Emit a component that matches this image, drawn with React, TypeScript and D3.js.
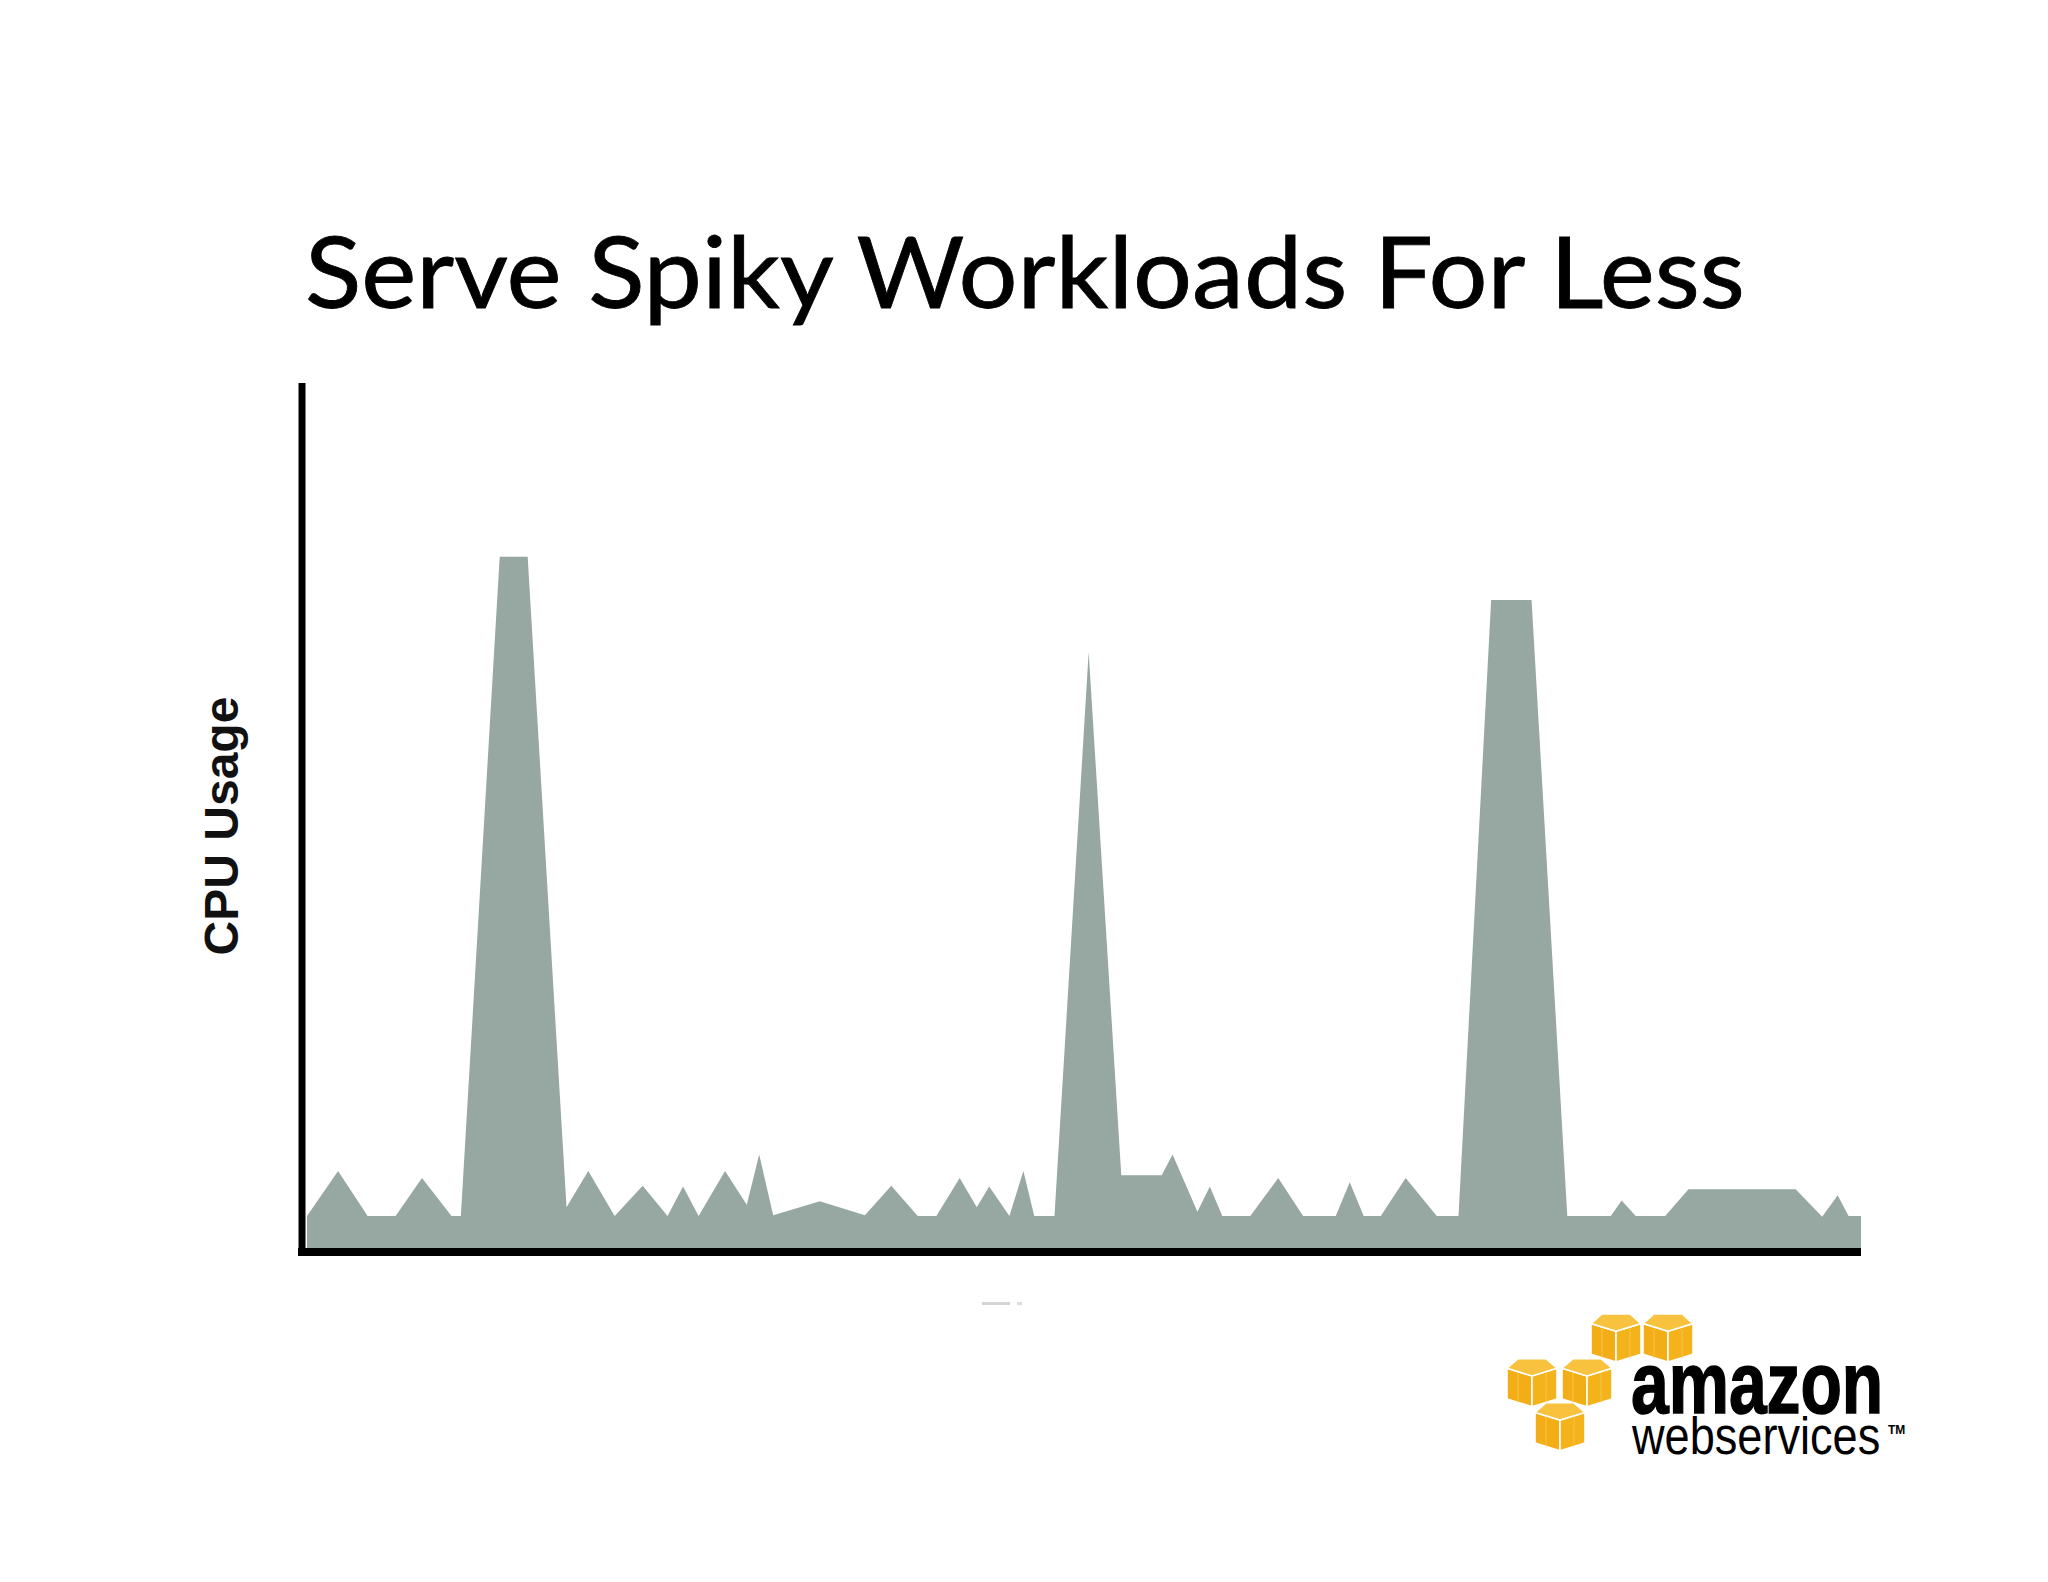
import React from "react";
import * as d3 from "d3";

// Time (0–100 % of window) and CPU usage (% of axis height)
const timePoints = [
  0, 2.0, 3.9, 5.7, 7.4, 9.3, 9.9, 12.4, 14.2, 16.7, 18.1, 19.8, 21.6, 23.2, 24.2, 25.2,
  26.9, 28.3, 29.1, 30.0, 33.0, 35.9, 37.6, 39.3, 40.5, 42.0, 43.1, 43.9, 45.2, 46.1, 46.8,
  48.1, 50.3, 52.4, 55.0, 55.7, 57.3, 58.1, 58.9, 60.7, 62.5, 64.1, 66.2, 67.1, 68.0, 69.1,
  70.7, 72.7, 74.1, 76.2, 78.8, 81.1, 83.9, 84.6, 85.5, 87.4, 88.9, 95.8, 97.5, 98.5, 99.2, 100,
];
const cpuUsage = [
  3.7, 8.9, 3.7, 3.7, 8.1, 3.7, 3.7, 79.9, 79.9, 4.7, 8.9, 3.7, 7.2, 3.7, 7.1, 3.7,
  8.9, 5.0, 10.8, 3.8, 5.4, 3.8, 7.2, 3.7, 3.7, 8.1, 4.7, 7.1, 3.7, 8.9, 3.7,
  3.7, 68.9, 8.4, 8.4, 10.8, 4.2, 7.1, 3.7, 3.7, 8.1, 3.7, 3.7, 7.6, 3.7, 3.7,
  8.1, 3.7, 3.7, 74.9, 74.9, 3.7, 3.7, 5.5, 3.7, 3.7, 6.8, 6.8, 3.6, 6.1, 3.7, 3.7,
];

const titleText = "Serve Spiky Workloads For Less";
const yAxisLabel = "CPU Usage";

// AWS logo cubes: column/row positions in cube units
const cubeCols = [1.68, 2.72, 0, 1.1, 0.56];
const cubeRows = [0, 0, 0.93, 0.93, 1.85];

const W = 2048;
const H = 1582;
const plot = { left: 307, right: 1861, top: 383, bottom: 1248 };

function Cube({ x, y, w, h }: { x: number; y: number; w: number; h: number }) {
  const top = [
    [0, 0.2 * h],
    [0.22 * w, 0],
    [0.78 * w, 0],
    [w, 0.2 * h],
    [0.5 * w, 0.36 * h],
  ];
  const left = [
    [0, 0.2 * h],
    [0.5 * w, 0.36 * h],
    [0.5 * w, h],
    [0, 0.84 * h],
  ];
  const right = [
    [w, 0.2 * h],
    [0.5 * w, 0.36 * h],
    [0.5 * w, h],
    [w, 0.84 * h],
  ];
  const pts = (p: number[][]) => p.map((q) => q.join(",")).join(" ");
  return (
    <g transform={`translate(${x},${y})`}>
      <polygon points={pts(left)} fill="#f3ae17" stroke="#fff" strokeWidth={1.6} />
      <polygon points={pts(right)} fill="#f4b21b" stroke="#fff" strokeWidth={1.6} />
      <polygon points={pts(top)} fill="#f8c23f" stroke="#fff" strokeWidth={1.6} />
      <line x1={0.22 * w} y1={0.3 * h} x2={0.22 * w} y2={0.93 * h} stroke="#fbd06a" strokeWidth={1} opacity={0.6} />
      <line x1={0.78 * w} y1={0.3 * h} x2={0.78 * w} y2={0.93 * h} stroke="#fbd06a" strokeWidth={1} opacity={0.6} />
    </g>
  );
}

export default function App() {
  const x = d3.scaleLinear().domain([0, 100]).range([plot.left, plot.right]);
  const y = d3.scaleLinear().domain([0, 100]).range([plot.bottom, plot.top]);
  const data = timePoints.map((t, i) => ({ t, v: cpuUsage[i] }));
  const area = d3
    .area<{ t: number; v: number }>()
    .x((d) => x(d.t))
    .y0(y(0))
    .y1((d) => y(d.v))
    .curve(d3.curveLinear);

  const cubeW = 50;
  const cubeH = 48;
  const logoX = 1507;
  const logoY = 1314;

  return (
    <svg
      width={W}
      height={H}
      viewBox={`0 0 ${W} ${H}`}
      style={{ position: "absolute", left: 0, top: 0, display: "block", background: "#fff" }}
    >
      <rect x={0} y={0} width={W} height={H} fill="#fff" />
      <text
        x={1025}
        y={308}
        textAnchor="middle"
        fontFamily="Lato, 'Open Sans', sans-serif"
        fontSize={98}
        fill="#000"
        stroke="#000"
        strokeWidth={0.8}
        textLength={1440}
        lengthAdjust="spacingAndGlyphs"
      >
        {titleText}
      </text>

      <path d={area(data) || ""} fill="#97a8a2" />

      {/* axes */}
      <line x1={302} y1={plot.top} x2={302} y2={1256} stroke="#000" strokeWidth={7} />
      <line x1={298} y1={1252} x2={plot.right} y2={1252} stroke="#000" strokeWidth={8} />

      <text
        transform={`translate(238, 826) rotate(-90)`}
        textAnchor="middle"
        fontFamily="'Liberation Sans', Arial, sans-serif"
        fontWeight="bold"
        fontSize={48}
        fill="#111"
      >
        {yAxisLabel}
      </text>

      <rect x={982} y={1302} width={28} height={3} fill="#d4d4d4" />
      <rect x={1017} y={1302} width={5} height={3} fill="#dcdcdc" />

      {/* AWS logo */}
      {cubeCols.map((c, i) => (
        <Cube key={i} x={logoX + c * cubeW} y={logoY + cubeRows[i] * cubeH} w={cubeW} h={cubeH} />
      ))}
      <g transform="translate(1631, 1413) scale(0.77, 1)">
        <text
          x={0}
          y={0}
          fontFamily="'Liberation Sans', Arial, sans-serif"
          fontWeight="bold"
          fontSize={88}
          fill="#000"
          stroke="#000"
          strokeWidth={1.5}
        >
          amazon
        </text>
      </g>
      <g transform="translate(1632, 1454) scale(0.885, 1)">
        <text x={0} y={0} fontFamily="'Liberation Sans', Arial, sans-serif" fontSize={51} fill="#000">
          webservices
        </text>
      </g>
      <text
        x={1888}
        y={1434}
        fontFamily="'Liberation Sans', Arial, sans-serif"
        fontWeight="bold"
        fontSize={12}
        fill="#000"
      >
        TM
      </text>
    </svg>
  );
}
